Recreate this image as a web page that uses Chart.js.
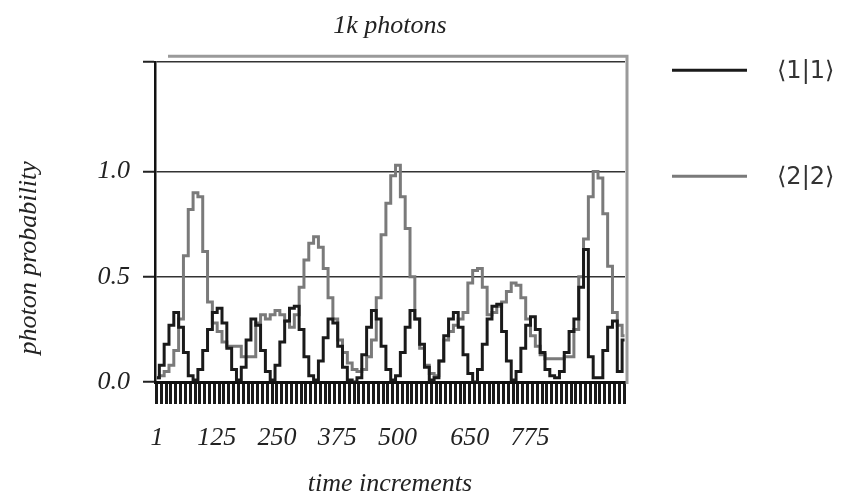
<!DOCTYPE html>
<html>
<head>
<meta charset="utf-8">
<script src="https://cdn.jsdelivr.net/npm/chart.js@4"></script>
<style>
  html, body { margin: 0; padding: 0; background: #fff; }
  #wrap { width: 853px; height: 496px; }
</style>
</head>
<body>
<div id="wrap"><canvas id="chart" width="853" height="496"></canvas></div>
<script>
// time steps (every 10 increments)
const time = [
  1, 11, 21, 31, 41, 51, 61, 71, 81, 91,
  101, 111, 121, 131, 141, 151, 161, 171, 181, 191,
  201, 211, 221, 231, 241, 251, 261, 271, 281, 291,
  301, 311, 321, 331, 341, 351, 361, 371, 381, 391,
  401, 411, 421, 431, 441, 451, 461, 471, 481, 491,
  501, 511, 521, 531, 541, 551, 561, 571, 581, 591,
  601, 611, 621, 631, 641, 651, 661, 671, 681, 691,
  701, 711, 721, 731, 741, 751, 761, 771, 781, 791,
  801, 811, 821, 831, 841, 851, 861, 871, 881, 891,
  901, 911, 921, 931, 941, 951, 961, 971
];

// <1|1>
const prob11 = [
  0.02, 0.08, 0.18, 0.27, 0.33, 0.26, 0.14, 0.03, 0.01, 0.06,
  0.15, 0.25, 0.33, 0.35, 0.28, 0.16, 0.06, 0.01, 0.07, 0.20,
  0.30, 0.27, 0.15, 0.05, 0.01, 0.08, 0.19, 0.29, 0.35, 0.36,
  0.25, 0.12, 0.03, 0.01, 0.10, 0.21, 0.30, 0.28, 0.17, 0.07,
  0.01, 0.00, 0.02, 0.13, 0.26, 0.34, 0.30, 0.17, 0.06, 0.01,
  0.03, 0.14, 0.26, 0.34, 0.30, 0.18, 0.07, 0.01, 0.02, 0.10,
  0.22, 0.30, 0.33, 0.26, 0.13, 0.04, 0.00, 0.06, 0.18, 0.30,
  0.36, 0.37, 0.24, 0.10, 0.01, 0.05, 0.16, 0.27, 0.31, 0.25,
  0.14, 0.06, 0.03, 0.02, 0.05, 0.14, 0.24, 0.30, 0.45, 0.63,
  0.12, 0.02, 0.02, 0.15, 0.26, 0.29, 0.05, 0.20
];

// <2|2>
const prob22 = [
  0.02, 0.03, 0.05, 0.08, 0.15, 0.30, 0.60, 0.82, 0.90, 0.88,
  0.62, 0.38, 0.28, 0.24, 0.19, 0.17, 0.17, 0.17, 0.12, 0.12,
  0.12, 0.28, 0.32, 0.30, 0.32, 0.34, 0.32, 0.29, 0.26, 0.32,
  0.45, 0.58, 0.66, 0.69, 0.64, 0.54, 0.40, 0.30, 0.20, 0.14,
  0.09, 0.06, 0.05, 0.06, 0.12, 0.20, 0.40, 0.70, 0.85, 0.98,
  1.03, 0.88, 0.73, 0.50, 0.30, 0.16, 0.08, 0.04, 0.03, 0.10,
  0.20, 0.24, 0.27, 0.30, 0.33, 0.47, 0.53, 0.54, 0.45, 0.32,
  0.33, 0.36, 0.38, 0.43, 0.47, 0.46, 0.40, 0.30, 0.22, 0.17,
  0.13, 0.11, 0.11, 0.11, 0.11, 0.12, 0.12, 0.25, 0.50, 0.68,
  0.88, 1.00, 0.97, 0.80, 0.55, 0.33, 0.27, 0.22
];

const seriesNames = ["\u27E81|1\u27E9", "\u27E82|2\u27E9"];
const xTickLabels = [1, 125, 250, 375, 500, 650, 775];
const yTickLabels = [0.0, 0.5, 1.0];

const X_MIN = -3, X_MAX = 972, Y_MAX = 1.52;
const serif = '"Liberation Serif", "DejaVu Serif", serif';

function points(ys) {
  return time.map((t, i) => ({ x: t, y: ys[i] }));
}

// offset gray frame + legend on the right
const frameLegend = {
  id: 'frameLegend',
  afterDraw(chart) {
    const { ctx, chartArea: a } = chart;
    ctx.save();
    ctx.strokeStyle = '#9a9a9a';
    ctx.lineWidth = 3;
    ctx.beginPath();
    ctx.moveTo(a.left + 13, a.top - 6);
    ctx.lineTo(a.right + 2, a.top - 6);
    ctx.lineTo(a.right + 2, a.bottom + 2);
    ctx.stroke();

    chart.data.datasets.forEach((ds, i) => {
      const y = a.top + 8 + i * 106;
      ctx.strokeStyle = ds.borderColor;
      ctx.lineWidth = 3;
      ctx.beginPath();
      ctx.moveTo(a.right + 47, y);
      ctx.lineTo(a.right + 122, y);
      ctx.stroke();
      ctx.fillStyle = '#333';
      ctx.font = '24px "DejaVu Sans", sans-serif';
      ctx.textAlign = 'left';
      ctx.textBaseline = 'middle';
      ctx.fillText(ds.label, a.right + 152, y + 2);
    });
    ctx.restore();
  }
};

new Chart(document.getElementById('chart'), {
  type: 'line',
  data: {
    datasets: [
      {
        label: seriesNames[0],
        data: points(prob11),
        borderColor: '#1a1a1a',
        borderWidth: 3,
        stepped: 'middle',
        pointRadius: 0,
        fill: false
      },
      {
        label: seriesNames[1],
        data: points(prob22),
        borderColor: '#7a7a7a',
        borderWidth: 3,
        stepped: 'middle',
        pointRadius: 0,
        fill: false
      }
    ]
  },
  options: {
    responsive: false,
    animation: false,
    layout: { padding: { left: 0, right: 228, top: 0, bottom: 0 } },
    plugins: {
      legend: { display: false },
      tooltip: { enabled: false },
      title: {
        display: true,
        text: '1k photons',
        fullSize: false,
        color: '#222',
        font: { family: serif, size: 26, style: 'italic', weight: 'normal' },
        padding: { top: 11, bottom: 20 }
      }
    },
    scales: {
      x: {
        type: 'linear',
        position: 'bottom',
        weight: 1,
        min: X_MIN,
        max: X_MAX,
        afterBuildTicks: s => { s.ticks = xTickLabels.map(v => ({ value: v })); },
        afterFit: s => { s.height = 92; },
        grid: { display: false, drawTicks: false },
        border: { display: false },
        ticks: {
          autoSkip: false,
          maxRotation: 0,
          padding: 19,
          color: '#222',
          font: { family: serif, size: 26, style: 'italic' },
          callback: v => String(v)
        },
        title: {
          display: true,
          text: 'time increments',
          color: '#222',
          font: { family: serif, size: 26, style: 'italic' },
          padding: { top: 0, bottom: -4 }
        }
      },
      xh: {
        type: 'linear',
        position: 'bottom',
        weight: 0,
        min: X_MIN,
        max: X_MAX,
        ticks: { display: false, stepSize: 10, includeBounds: false },
        grid: {
          drawOnChartArea: false,
          drawTicks: true,
          tickLength: 22,
          tickWidth: 3,
          tickColor: '#1a1a1a'
        },
        border: { display: true, color: '#111', width: 3 }
      },
      y: {
        min: 0,
        max: Y_MAX,
        afterBuildTicks: s => { s.ticks = yTickLabels.concat([Y_MAX]).map(v => ({ value: v })); },
        afterFit: s => { s.width = 155; },
        grid: {
          color: '#333',
          lineWidth: 1.5,
          tickLength: 12,
          tickColor: '#222',
          tickWidth: 2
        },
        border: { display: true, color: '#111', width: 2.5 },
        ticks: {
          padding: 13,
          color: '#222',
          font: { family: serif, size: 26, style: 'italic' },
          callback: v => (yTickLabels.includes(v) ? v.toFixed(1) : '')
        },
        title: {
          display: true,
          // trailing spaces push the rotated title towards the lower half
          text: 'photon probability' + '\u00A0'.repeat(11),
          color: '#222',
          font: { family: serif, size: 26, style: 'italic' },
          padding: { top: 14, bottom: 0 }
        }
      }
    }
  },
  plugins: [frameLegend]
});
</script>
</body>
</html>
